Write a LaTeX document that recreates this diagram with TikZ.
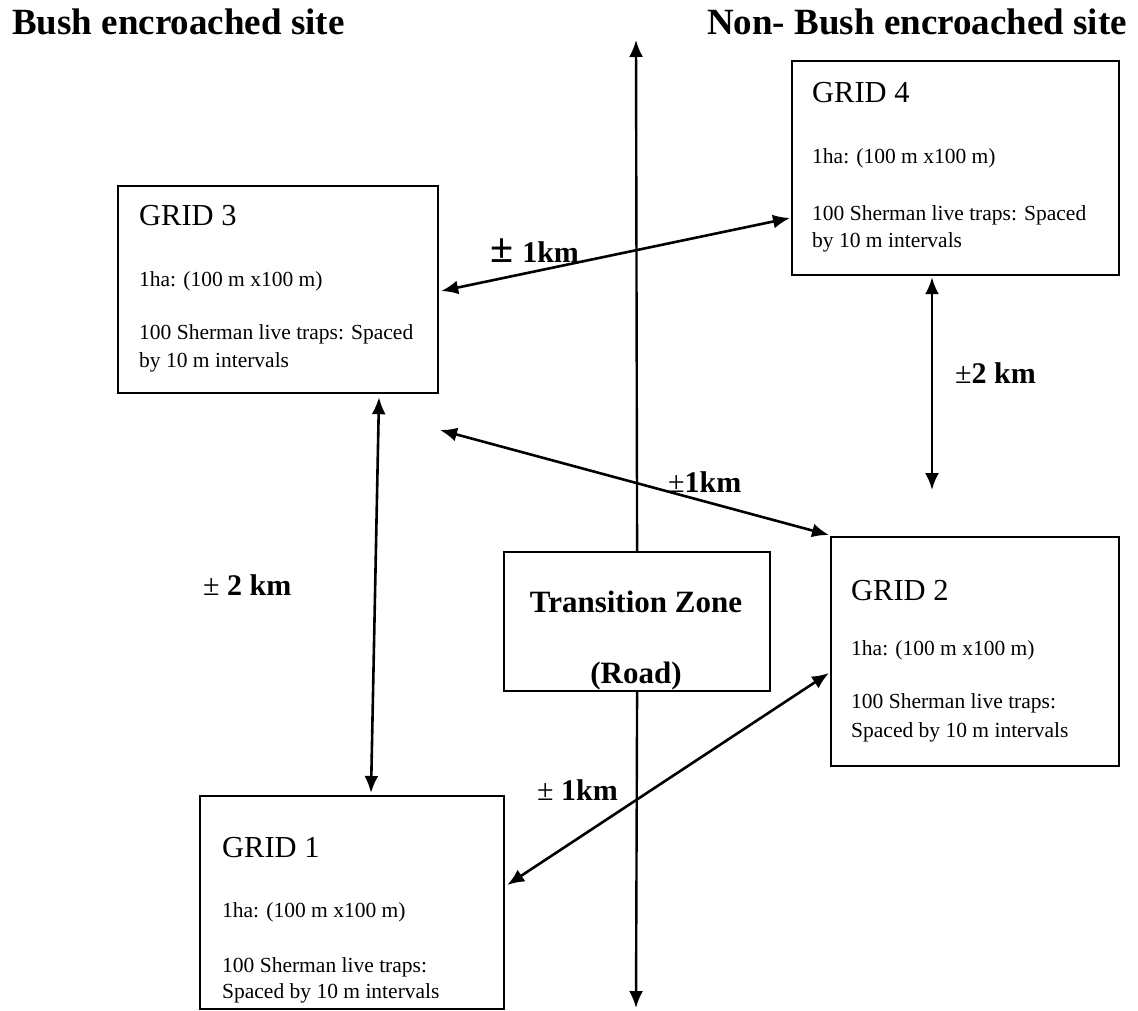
\documentclass[tikz,border=0pt]{standalone}
\usepackage{fontspec}
\setmainfont{Liberation Serif}
\usetikzlibrary{arrows.meta,calc}
\begin{document}
\begin{tikzpicture}[x=1pt,y=-1pt,
  box/.style={draw,line width=2.2pt,fill=white,inner sep=0pt,anchor=north west},
  gridtitle/.style={anchor=base west,inner sep=0pt,font=\fontsize{30.5}{36}\selectfont},
  small/.style={anchor=base west,inner sep=0pt,font=\fontsize{21.5}{26}\selectfont},
  head/.style={anchor=base west,inner sep=0pt,font=\fontsize{37}{44}\selectfont\bfseries},
  lbl/.style={anchor=base west,inner sep=0pt,font=\fontsize{30}{36}\selectfont},
  zonetext/.style={anchor=base,inner sep=0pt,font=\fontsize{31}{36}\selectfont\bfseries},
  link/.style={line width=2.6pt,{Latex[length=17pt,width=14pt]}-{Latex[length=17pt,width=14pt]}},
  road/.style={line width=2.4pt,-{Latex[length=17pt,width=14pt]}}
]
\useasboundingbox (0,0) rectangle (1138,1010);

% titles
\node[head] (tleft) at (12,34) {Bush encroached site};
\node[head] (tright) at (707,34) {Non- Bush encroached site};

% boxes
\node[box,minimum width=320pt,minimum height=207pt] (g3) at (117,185) {};
\node[box,minimum width=327pt,minimum height=214pt] (g4) at (791,60) {};
\node[box,minimum width=288pt,minimum height=229pt] (g2) at (830,536) {};
\node[box,minimum width=304pt,minimum height=213pt] (g1) at (199,795) {};
\node[box,minimum width=266pt,minimum height=139pt] (tz) at (503,551) {};

% road
\coordinate (roadtop) at (636,40);
\coordinate (roadbot) at (636,1008);
\draw[road] (tz.north) -- (roadtop);
\draw[road] (tz.south) -- (roadbot);
\node[zonetext] (tz1) at (636,612) {Transition Zone};
\node[zonetext] (tz2) at (636,683) {(Road)};

% grid texts
\node[gridtitle] (g3a) at (139,225) {GRID 3};
\node[small] (g3b) at (139,286) {1ha: (100 m x100 m)};
\node[small] (g3c) at (139,339) {100 Sherman live traps: Spaced};
\node[small] (g3d) at (139,367) {by 10 m intervals};

\node[gridtitle] (g4a) at (812,102) {GRID 4};
\node[small] (g4b) at (812,163) {1ha: (100 m x100 m)};
\node[small] (g4c) at (812,220) {100 Sherman live traps: Spaced};
\node[small] (g4d) at (812,247) {by 10 m intervals};

\node[gridtitle] (g2a) at (851,600) {GRID 2};
\node[small] (g2b) at (851,655) {1ha: (100 m x100 m)};
\node[small] (g2c) at (851,708) {100 Sherman live traps:};
\node[small] (g2d) at (851,737) {Spaced by 10 m intervals};

\node[gridtitle] (g1a) at (222,857) {GRID 1};
\node[small] (g1b) at (222,917) {1ha: (100 m x100 m)};
\node[small] (g1c) at (222,972) {100 Sherman live traps:};
\node[small] (g1d) at (222,998) {Spaced by 10 m intervals};

% connectors
\coordinate (c3) at (440,430);
\coordinate (c4) at (932,490);
\draw[link] ([xshift=2pt,yshift=-106pt]g3.north east) -- ([xshift=-1pt,yshift=-158pt]g4.north west);
\draw[link] ([xshift=262pt,yshift=-3pt]g3.south west) -- ([xshift=172pt,yshift=2pt]g1.north west);
\draw[link] (c3) -- ([xshift=-1pt,yshift=1pt]g2.north west);
\draw[link] ([xshift=141pt,yshift=-1pt]g4.south west) -- (c4);
\draw[link] ([xshift=2pt,yshift=-90pt]g1.north east) -- ([xshift=-1pt,yshift=-137pt]g2.north west);

% distance labels
\node[lbl] (l1) at (490,262) {{\fontsize{42}{42}\selectfont\bfseries ±}\hspace{9pt}{\bfseries 1km}};
\node[lbl] (l2) at (203,595) {± {\bfseries 2 km}};
\node[lbl] (l3) at (668,492) {±{\bfseries 1km}};
\node[lbl] (l4) at (955,383) {±{\bfseries 2 km}};
\node[lbl] (l5) at (537,800) {± {\bfseries 1km}};
\end{tikzpicture}
\end{document}
